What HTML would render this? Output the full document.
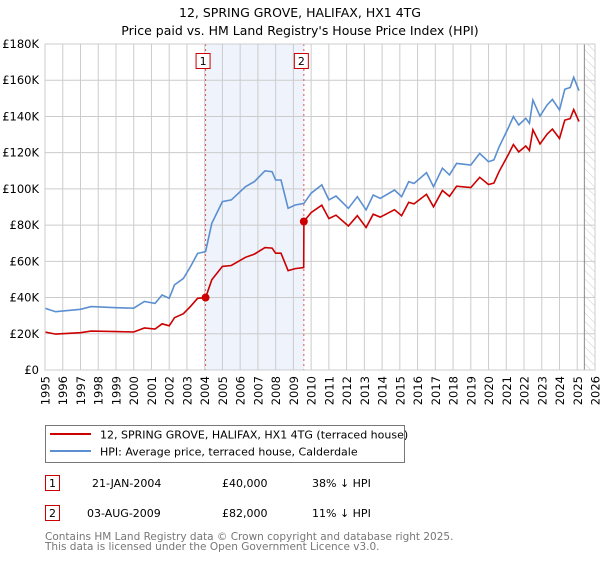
<!DOCTYPE html>
<html><head><meta charset="utf-8"><style>
body{margin:0;background:#fff;font-family:"DejaVu Sans","Liberation Sans",sans-serif;}
svg text{font-family:"DejaVu Sans","Liberation Sans",sans-serif;}
</style></head><body>
<svg id="chart" width="600" height="560" viewBox="0 0 600 560" xmlns="http://www.w3.org/2000/svg">
<defs><pattern id="hatch" width="6" height="6" patternUnits="userSpaceOnUse" patternTransform="rotate(-45)"><line x1="0" y1="0" x2="0" y2="6" stroke="#ccc" stroke-width="1"/></pattern></defs>
<text x="300" y="17" text-anchor="middle" font-size="12.5">12, SPRING GROVE, HALIFAX, HX1 4TG</text>
<text x="300" y="35" text-anchor="middle" font-size="12.5">Price paid vs. HM Land Registry's House Price Index (HPI)</text>
<g id="plot"></g>
<rect x="45.5" y="425.5" width="359" height="37" fill="#fff" stroke="#777"/>
<line x1="50" y1="434" x2="91" y2="434" stroke="#cc0000" stroke-width="2"/>
<text x="100" y="438.5" font-size="11">12, SPRING GROVE, HALIFAX, HX1 4TG (terraced house)</text>
<line x1="50" y1="451" x2="91" y2="451" stroke="#5b8fd1" stroke-width="2"/>
<text x="100" y="455.5" font-size="11">HPI: Average price, terraced house, Calderdale</text>
<g font-size="11">
<rect x="45.5" y="475.5" width="14" height="15" fill="#fff" stroke="#cc0000"/><text x="52.5" y="487" text-anchor="middle">1</text>
<text x="92" y="487">21-JAN-2004</text><text x="222" y="487">£40,000</text><text x="312" y="487">38% ↓ HPI</text></g>
<g font-size="11">
<rect x="45.5" y="505.5" width="14" height="15" fill="#fff" stroke="#cc0000"/><text x="52.5" y="517" text-anchor="middle">2</text>
<text x="87" y="517">03-AUG-2009</text><text x="222" y="517">£82,000</text><text x="312" y="517">11% ↓ HPI</text></g>
<text x="45" y="540" font-size="10.5" fill="#777">Contains HM Land Registry data © Crown copyright and database right 2025.</text>
<text x="45" y="550" font-size="10.5" fill="#777">This data is licensed under the Open Government Licence v3.0.</text>
</svg>
<script>
const years=[1995,1996,1997,1998,1999,2000,2001,2002,2003,2004,2005,2006,2007,2008,2009,2010,2011,2012,2013,2014,2015,2016,2017,2018,2019,2020,2021,2022,2023,2024,2025,2026];
const yTicks=[0,20,40,60,80,100,120,140,160,180];
const hpiT=[1995.0,1995.6,1997.0,1997.6,1999.0,2000.0,2000.6,2001.2,2001.6,2002.0,2002.3,2002.8,2003.2,2003.6,2004.05,2004.4,2005.0,2005.5,2006.3,2006.8,2007.4,2007.8,2008.0,2008.3,2008.7,2009.1,2009.59,2010.0,2010.6,2011.0,2011.4,2012.1,2012.6,2013.1,2013.5,2013.9,2014.7,2015.1,2015.5,2015.8,2016.5,2016.9,2017.4,2017.8,2018.2,2019.0,2019.5,2020.0,2020.3,2020.6,2021.1,2021.4,2021.7,2022.1,2022.3,2022.5,2022.9,2023.3,2023.6,2024.0,2024.3,2024.6,2024.8,2025.1];
const hpiV=[34.1,32.2,33.5,35.0,34.4,34.1,37.8,36.8,41.4,39.6,47.0,50.6,57.1,64.4,65.4,81.0,93.0,93.9,101.2,104,110,109.5,104.9,104.9,89.3,91.1,92,97.6,102.2,93.9,96.1,89.3,95.7,88.4,96.6,94.8,99.4,95.7,104,103,109,101.2,111.4,107.7,114.1,113.2,119.6,115,116,123.3,133.4,139.9,135.3,139,136.2,149,140.2,146.3,149.4,143.6,155,156,161.6,154.2];
const redT=[1995.0,1995.6,1997.0,1997.6,1999.0,2000.0,2000.6,2001.2,2001.6,2002.0,2002.3,2002.8,2003.2,2003.6,2004.05,2004.4,2005.0,2005.5,2006.3,2006.8,2007.4,2007.8,2008.0,2008.3,2008.7,2009.1,2009.58,2009.59,2010.0,2010.6,2011.0,2011.4,2012.1,2012.6,2013.1,2013.5,2013.9,2014.7,2015.1,2015.5,2015.8,2016.5,2016.9,2017.4,2017.8,2018.2,2019.0,2019.5,2020.0,2020.3,2020.6,2021.1,2021.4,2021.7,2022.1,2022.3,2022.5,2022.9,2023.3,2023.6,2024.0,2024.3,2024.6,2024.8,2025.1];
const redV=[21.0,19.8,20.6,21.5,21.2,21.0,23.2,22.6,25.5,24.4,28.9,31.1,35.1,39.6,40,49.8,57.2,57.7,62.2,64,67.6,67.3,64.5,64.5,54.9,56,56.6,82,86.9,91,83.6,85.5,79.5,85.2,78.7,86,84.4,88.5,85.2,92.6,91.7,97,90.1,99.1,95.9,101.5,100.7,106.4,102.4,103.2,109.7,118.7,124.5,120.4,123.7,121.2,132.6,124.8,130.2,133,127.8,138,138.8,143.8,137.2];
const sales=[[2004.05,40],[2009.59,82]];
const X0=45,X1=595,Y0=370,Y1=44;
function xs(t){return X0+(t-1995)/31*(X1-X0);}
function ys(v){return Y0-v/180*(Y0-Y1);}
const NS="http://www.w3.org/2000/svg";
const g=document.getElementById('plot');
function mk(tag,attrs,parent){const e=document.createElementNS(NS,tag);for(const k in attrs)e.setAttribute(k,attrs[k]);(parent||g).appendChild(e);return e;}
let e=mk('rect',{x:xs(sales[0][0]),y:Y1,width:xs(sales[1][0])-xs(sales[0][0]),height:Y0-Y1,fill:'#eef3fc'});


e=mk('rect',{x:xs(2025.4),y:Y1,width:X1-xs(2025.4),height:Y0-Y1,fill:'url(#hatch)'});


years.forEach(y=>{
 const l=mk('line',{x1:xs(y),x2:xs(y),y1:Y1,y2:Y0,stroke:'#ccc','stroke-width':1});
 
 
 const tx=xs(y)+4.5, ty=Y0+6;
 const t=mk('text',{x:tx,y:ty,'text-anchor':'end','font-size':11.5,transform:'rotate(-90 '+tx+' '+ty+')'});
 t.textContent=y;
 
 
});
yTicks.forEach(v=>{
 const l=mk('line',{x1:X0,x2:X1,y1:ys(v),y2:ys(v),stroke:'#ccc','stroke-width':1});
 
 
 const t=mk('text',{x:X0-6,y:ys(v)+4,'text-anchor':'end','font-size':11.5});
 t.textContent=v===0?'£0':'£'+v+'K';
 
 
});
mk('line',{x1:xs(2025.4),x2:xs(2025.4),y1:Y1,y2:Y0,stroke:'#888'});
sales.forEach((s,i)=>{
 const l=mk('line',{x1:xs(s[0]),x2:xs(s[0]),y1:Y1,y2:Y0,stroke:'#e05050','stroke-dasharray':'2,3'});
 
 
 const r=mk('rect',{x:xs(s[0])-9.5,y:53.5,width:14,height:15,fill:'#fff',stroke:'#cc0000'});
 
 
 const t=mk('text',{x:xs(s[0])-2.5,y:65,'text-anchor':'middle','font-size':11});
 t.textContent=String(i+1);
});
function path(T,V){return T.map((t,i)=>(i?'L':'M')+xs(t).toFixed(1)+','+ys(V[i]).toFixed(1)).join('');}
e=mk('path',{d:path(hpiT,hpiV),fill:'none',stroke:'#5b8fd1','stroke-width':1.6});


e=mk('path',{d:path(redT,redV),fill:'none',stroke:'#cc0000','stroke-width':1.6});


sales.forEach(s=>{
 const c=mk('circle',{cx:xs(s[0]),cy:ys(s[1]),r:4,fill:'#cc0000'});
 
 
});
e=mk('rect',{x:X0,y:Y1,width:X1-X0,height:Y0-Y1,fill:'none',stroke:'#ccc'});
</script>
</body></html>
